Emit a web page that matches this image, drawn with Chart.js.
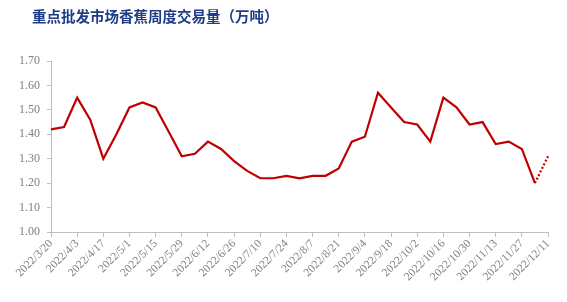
<!DOCTYPE html>
<html>
<head>
<meta charset="utf-8">
<script src="https://cdn.jsdelivr.net/npm/chart.js@4"></script>
<style>
  html, body { margin: 0; padding: 0; background: #fff; }
</style>
</head>
<body>
<canvas id="myChart" width="567" height="302"></canvas>
<script>
// weekly dates
const dates = [
    '2022/3/20', '2022/3/27', '2022/4/3', '2022/4/10', '2022/4/17', '2022/4/24',
    '2022/5/1', '2022/5/8', '2022/5/15', '2022/5/22', '2022/5/29', '2022/6/5',
    '2022/6/12', '2022/6/19', '2022/6/26', '2022/7/3', '2022/7/10', '2022/7/17',
    '2022/7/24', '2022/7/31', '2022/8/7', '2022/8/14', '2022/8/21', '2022/8/28',
    '2022/9/4', '2022/9/11', '2022/9/18', '2022/9/25', '2022/10/2', '2022/10/9',
    '2022/10/16', '2022/10/23', '2022/10/30', '2022/11/6', '2022/11/13', '2022/11/20',
    '2022/11/27', '2022/12/4', '2022/12/11'
];

// volume, 10k tonnes
const volume = [
    1.42, 1.43, 1.55, 1.46, 1.30, 1.40, 1.51, 1.53, 1.51, 1.41,
    1.31, 1.32, 1.37, 1.34, 1.29, 1.25, 1.22, 1.22, 1.23, 1.22,
    1.23, 1.23, 1.26, 1.37, 1.39, 1.57, 1.51, 1.45, 1.44, 1.37,
    1.55, 1.51, 1.44, 1.45, 1.36, 1.37, 1.34, 1.20, 1.31
];

const yTicks = [1.00, 1.10, 1.20, 1.30, 1.40, 1.50, 1.60, 1.70];

const titleText = '重点批发市场香蕉周度交易量（万吨）';
const axisGray = '#bfbfbf';
const labelGray = '#7f7f7f';
const lastIdx = volume.length - 1;

// title drawn at top-left
const titlePlugin = {
    id: 'topTitle',
    afterDraw(chart) {
        const c = chart.ctx;
        c.save();
        c.font = 'bold 14.5px "Noto Sans CJK SC"';
        c.fillStyle = '#1f3c88';
        c.textBaseline = 'middle';
        c.fillText(titleText, 32, 16);
        c.restore();
    }
};

const ctx = document.getElementById('myChart').getContext('2d');
const myChart = new Chart(ctx, {
    type: 'line',
    data: {
        labels: dates,
        datasets: [{
            data: volume,
            borderColor: '#c00000',
            borderWidth: 2.2,
            pointRadius: 0,
            tension: 0,
            segment: {
                borderDash: c => c.p1DataIndex === lastIdx ? [2, 2] : undefined
            }
        }]
    },
    options: {
        responsive: false,
        animation: false,
        layout: { padding: { top: 61, right: 19, bottom: 0, left: 0 } },
        plugins: {
            legend: { display: false },
            tooltip: { enabled: false }
        },
        scales: {
            x: {
                offset: false,
                afterFit: s => { s.height = 70; },
                border: { color: axisGray, width: 1 },
                grid: {
                    drawOnChartArea: false,
                    tickLength: 5,
                    color: c => c.index % 2 === 0 ? axisGray : 'rgba(0,0,0,0)'
                },
                ticks: {
                    autoSkip: false,
                    maxRotation: 45,
                    minRotation: 45,
                    padding: 0,
                    color: labelGray,
                    font: { family: '"Liberation Serif"', size: 11.5 },
                    callback: function (v, i) { return i % 2 === 0 ? dates[i] : ''; }
                }
            },
            y: {
                min: 1.0,
                max: 1.7,
                afterFit: s => { s.width = 51; },
                afterBuildTicks: s => { s.ticks = yTicks.map(v => ({ value: v })); },
                border: { color: axisGray, width: 1 },
                grid: { drawOnChartArea: false, tickLength: 4, color: axisGray },
                ticks: {
                    padding: 7,
                    color: labelGray,
                    font: { family: '"Liberation Serif"', size: 12 },
                    callback: v => v.toFixed(2)
                }
            }
        }
    },
    plugins: [titlePlugin]
});
</script>
</body>
</html>
